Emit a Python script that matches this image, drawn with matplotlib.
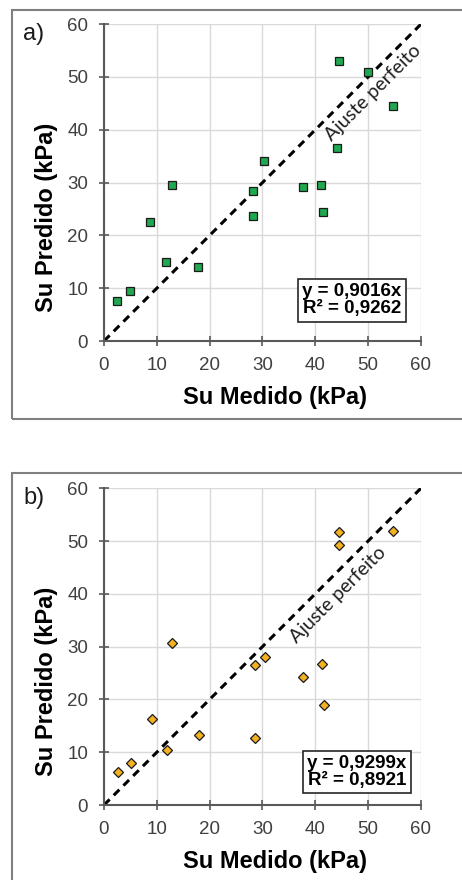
import matplotlib
matplotlib.use("Agg")
import matplotlib.pyplot as plt
from matplotlib.patches import Rectangle

# dados
su_medido_a = [2.5, 4.9, 8.7, 11.8, 12.8, 17.8, 28.2, 28.2, 30.3, 37.6, 41.1, 41.5, 44.2, 44.4, 50.0, 54.7]
su_predido_a = [7.6, 9.4, 22.5, 15.0, 29.6, 14.0, 28.5, 23.6, 34.0, 29.2, 29.6, 24.4, 36.5, 53.1, 51.0, 44.5]
su_medido_b = [2.6, 5.2, 9.0, 11.9, 12.9, 17.9, 28.5, 28.5, 30.4, 37.7, 41.2, 41.7, 44.5, 44.5, 54.7]
su_predido_b = [6.2, 8.0, 16.2, 10.4, 30.6, 13.3, 26.6, 12.6, 28.0, 24.3, 26.8, 19.0, 51.7, 49.2, 51.9]
eq_a = "y = 0,9016x\nR² = 0,9262"
eq_b = "y = 0,9299x\nR² = 0,8921"
ticks = [0, 10, 20, 30, 40, 50, 60]

plt.rcParams['font.family'] = ['Liberation Sans', 'DejaVu Sans']

fig = plt.figure(figsize=(4.62, 8.8), dpi=100)

# molduras dos paineis
fig.patches.append(Rectangle((0.026, 0.524), 1.0, 0.465, transform=fig.transFigure,
                             fill=False, edgecolor='#7f7f7f', lw=1.5))
fig.patches.append(Rectangle((0.026, -0.01), 1.0, 0.4725, transform=fig.transFigure,
                             fill=False, edgecolor='#7f7f7f', lw=1.5))

ax_a = fig.add_axes([0.2251, 0.6125, 0.686, 0.360])
ax_b = fig.add_axes([0.2251, 0.0852, 0.686, 0.360])


def painel(ax, x, y, marker, cor, ms, letra, eq, eq_pos, txt_pos):
    ax.grid(True, color='#d9d9d9', lw=1)
    ax.set_axisbelow(True)
    ax.plot([0, 60], [0, 60], color='black', lw=2.2, dashes=(2.6, 1.9), zorder=2)
    ax.plot(x, y, ls='none', marker=marker, ms=ms, mfc=cor, mec='#1a1a1a', mew=0.9, zorder=3)
    ax.set_xlim(0, 60)
    ax.set_ylim(0, 60)
    ax.set_xticks(ticks)
    ax.set_yticks(ticks)
    for s in ['top', 'right']:
        ax.spines[s].set_visible(False)
    for s in ['left', 'bottom']:
        ax.spines[s].set_color('#595959')
        ax.spines[s].set_linewidth(1.5)
    ax.tick_params(direction='inout', length=7, width=1.2, color='#595959',
                   labelsize=13.5, labelcolor='#404040')
    ax.tick_params(axis='x', pad=8)
    ax.tick_params(axis='y', pad=8)
    ax.text(0.54, -0.178, "Su Medido (kPa)", transform=ax.transAxes, ha='center', va='center',
            fontsize=17, fontweight='bold')
    ax.text(-0.18, 0.39, "Su Predido (kPa)", transform=ax.transAxes, ha='center', va='center',
            fontsize=17, fontweight='bold', rotation=90)
    ax.text(-0.222, 0.97, letra, transform=ax.transAxes, ha='center', va='center',
            fontsize=17, color='#1a1a1a')
    ax.text(eq_pos[0], eq_pos[1], eq, transform=ax.transAxes, ha='center', va='center',
            fontsize=13.5, fontweight='bold', linespacing=0.95,
            bbox=dict(boxstyle='square,pad=0.25', fc='white', ec='#262626', lw=1.2))
    ax.text(txt_pos[0], txt_pos[1], "Ajuste perfeito", ha='center', va='center', rotation=45,
            rotation_mode='anchor', fontsize=14, family=['Lato', 'DejaVu Sans'], color='#1f1f1f',
            zorder=4)


painel(ax_a, su_medido_a, su_predido_a, 's', '#1fa84f', 5.5, "a)", eq_a, (0.782, 0.129), (51.0, 47.0))
painel(ax_b, su_medido_b, su_predido_b, 'D', '#f4b223', 4.8, "b)", eq_b, (0.798, 0.104), (44.4, 39.8))

fig.savefig("out.png", dpi=100)
